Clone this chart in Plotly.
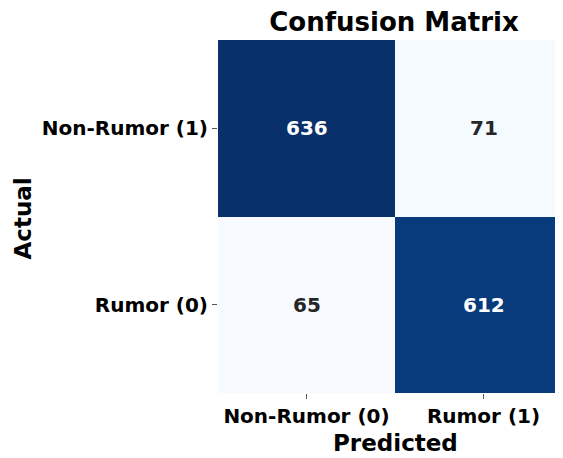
import plotly.graph_objects as go

# confusion matrix data (rows = actual, cols = predicted)
actual_labels = ["Non-Rumor (1)", "Rumor (0)"]
predicted_labels = ["Non-Rumor (0)", "Rumor (1)"]
counts = [[636, 71],
          [65, 612]]

# matplotlib "Blues"
blues = [
    [0.0, "#f7fbff"], [0.125, "#deebf7"], [0.25, "#c6dbef"], [0.375, "#9ecae1"],
    [0.5, "#6baed6"], [0.625, "#4292c6"], [0.75, "#2171b5"], [0.875, "#08519c"],
    [1.0, "#08306b"],
]

flat = [v for row in counts for v in row]
zmin, zmax = min(flat), max(flat)

fig = go.Figure(go.Heatmap(
    z=counts,
    x=[0, 1],
    y=[0, 1],
    colorscale=blues,
    zmin=zmin, zmax=zmax,
    showscale=False,
    hoverinfo="skip",
))

font = "DejaVu Sans"
annotations = []
for i, row in enumerate(counts):
    for j, v in enumerate(row):
        frac = (v - zmin) / (zmax - zmin)
        annotations.append(dict(
            x=j, y=i, text="<b>%d</b>" % v, showarrow=False,
            font=dict(size=20, family=font,
                      color="white" if frac > 0.5 else "#262626"),
        ))

# axis titles as annotations (automargin off so the plot area stays put)
annotations.append(dict(
    text="<b>Predicted</b>", xref="x", yref="paper", x=0.5, y=0,
    xanchor="center", yanchor="middle", yshift=-50, showarrow=False,
    font=dict(family=font, size=23, color="black"),
))
annotations.append(dict(
    text="<b>Actual</b>", xref="paper", yref="paper", x=0, y=0.5,
    xanchor="center", yanchor="middle", xshift=-196, yshift=-2,
    textangle=-90, showarrow=False,
    font=dict(family=font, size=23, color="black"),
))

# page body has an 8px margin, so the figure is a bit smaller than the window
W, H = 555, 450
fig.update_layout(
    width=W, height=H,
    margin=dict(l=210, r=0, t=32, b=65, autoexpand=False),
    plot_bgcolor="white", paper_bgcolor="white",
    annotations=annotations,
    title=dict(text="<b>Confusion Matrix</b>", x=386 / W, xanchor="center",
               y=1 - 14 / H, yanchor="middle",
               font=dict(family=font, size=26, color="black")),
    xaxis=dict(
        range=[-0.5, 1.449], tickvals=[0, 1], ticktext=["<b>%s</b>" % t for t in predicted_labels],
        ticks="outside", ticklen=5, tickcolor="#555", showgrid=False, zeroline=False,
        automargin=False,
        tickfont=dict(family=font, size=20, color="black"),
    ),
    yaxis=dict(
        range=[1.5, -0.5], tickvals=[0, 1], ticktext=["<b>%s</b>" % t for t in actual_labels],
        ticks="outside", ticklen=5, tickcolor="#555", showgrid=False, zeroline=False,
        automargin=False,
        tickfont=dict(family=font, size=20, color="black"),
    ),
)

fig.write_html("out.html")
